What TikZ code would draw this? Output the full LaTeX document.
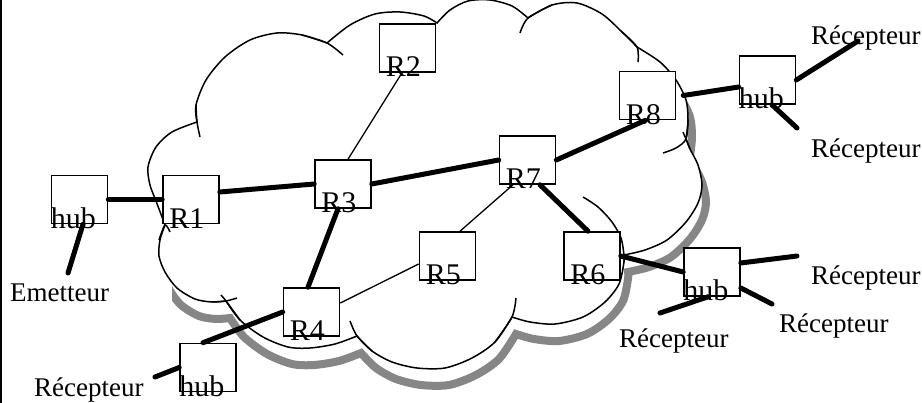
\documentclass[tikz,border=0pt]{standalone}
\usepackage{fontspec}
\setmainfont{Liberation Serif}
\begin{document}
\begin{tikzpicture}[x=1pt,y=-1pt,
  box/.style={draw, line width=1.6pt, fill=white, minimum width=56pt, minimum height=48pt, inner sep=0pt},
  lbl/.style={font=\fontsize{27}{30}\selectfont, inner sep=0pt, anchor=base west},
  boxlbl/.style={font=\fontsize{30}{32}\selectfont, inner sep=0pt, anchor=base west},
  fatlink/.style={line width=5pt, line cap=round},
  thinlink/.style={line width=1.3pt},
  cloudline/.style={line width=1.5pt},
  cloudpath/.style={insert path={
    plot[smooth] coordinates {(197,122) (172,132) (156,147) (148,167) (150,185) (156,201) (165,225)}
    -- plot[smooth] coordinates {(165,225) (160,240) (159,256) (165,272) (177,288) (195,299) (212,302) (226,301)}
    -- plot[smooth] coordinates {(226,301) (240,320) (263,337) (288,347) (310,348) (335,344) (357,336)}
    -- plot[smooth] coordinates {(357,336) (372,351) (392,362) (417,368) (445,368) (472,358) (495,342) (512,317)}
    -- plot[smooth] coordinates {(512,317) (530,322) (555,324) (583,317) (605,302) (619,284) (624,262) (624,255)}
    -- plot[smooth] coordinates {(624,255) (645,250) (667,240) (686,222) (698,203) (702,185) (698,165) (690,149) (686,139)}
    -- plot[smooth] coordinates {(686,139) (688,120) (686,100) (676,80) (660,62) (637,47)}
    -- plot[smooth] coordinates {(637,47) (622,32) (602,14) (577,3) (552,5) (528,18)}
    -- plot[smooth] coordinates {(528,18) (512,6) (490,0) (468,1) (450,10) (437,23)}
    -- plot[smooth] coordinates {(437,23) (424,16) (400,12) (375,14) (350,25) (327,43)}
    -- plot[smooth] coordinates {(327,43) (302,35) (277,33) (250,40) (225,57) (206,80) (196,105) (197,122)}
    -- cycle}}
]
\useasboundingbox (0,0) rectangle (922,403);

% left border
\draw[line width=2pt] (1,0) -- (1,403);

% cloud shadow and cloud
\begin{scope}
  \clip (172,0) rectangle (922,403);
  \draw[gray!95, line width=8pt, shift={(4,17)}, cloudpath];
\end{scope}
\draw[cloudline, fill=white, cloudpath];

% inner arcs of the cloud
\draw[cloudline] plot[smooth] coordinates {(196,105) (197,122) (200,137)};
\draw[cloudline] plot[smooth] coordinates {(159,240) (165,225) (170,232)};
\draw[cloudline] plot[smooth] coordinates {(212,302) (226,301) (237,298)};
\draw[cloudline] plot[smooth] coordinates {(221,295) (226,301) (240,320)};
\draw[cloudline] plot[smooth] coordinates {(350,321) (357,336) (372,351)};
\draw[cloudline] plot[smooth] coordinates {(495,342) (512,317) (516,298)};
\draw[cloudline] plot[smooth] coordinates {(624,262) (624,255) (621,238) (612,222) (598,207) (583,197)};
\draw[cloudline] plot[smooth] coordinates {(690,149) (686,139) (683,132)};
\draw[cloudline] plot[smooth] coordinates {(688,120) (686,139) (676,148) (663,153)};
\draw[cloudline] plot[smooth] coordinates {(622,32) (637,47) (638,62)};
\draw[cloudline] plot[smooth] coordinates {(552,5) (528,18) (520,33)};
\draw[cloudline] plot[smooth] coordinates {(302,35) (327,43) (343,55)};

% boxes
\node[box] (hubL) at (79.5,199.5) {};
\node[box] (r1) at (191,199.5) {};
\node[box] (r2) at (407.5,48) {};
\node[box] (r3) at (343,184) {};
\node[box] (r7) at (527.5,160) {};
\node[box] (r5) at (447.5,256) {};
\node[box] (r6) at (592,256) {};
\node[box] (r4) at (311.5,312) {};
\node[box] (r8) at (647.5,95.5) {};
\node[box] (hubTR) at (767.5,80) {};
\node[box] (hubRL) at (712,272) {};
\node[box] (hubB) at (208,367.5) {};

% free ends
\coordinate (eEm) at (68,273);
\coordinate (eT1) at (858,41);
\coordinate (eT2) at (797,128);
\coordinate (eR1) at (797,256);
\coordinate (eR2) at (772,304);
\coordinate (eR3) at (660,313);
\coordinate (eB) at (155,377);

% thick links
\draw[fatlink] (hubL.east) -- (r1.west);
\draw[fatlink] ([xshift=3.5pt]hubL.south) -- (eEm);
\draw[fatlink] ([yshift=7.5pt]r1.east) -- (r3.west);
\draw[fatlink] (r3.east) -- (r7.west);
\draw[fatlink] (r7.east) -- ([xshift=-2pt]r8.south);
\draw[fatlink] ([xshift=7pt]r8.east) -- ([yshift=-7pt]hubTR.west);
\draw[fatlink] (hubTR.east) -- (eT1);
\draw[fatlink] ([xshift=4.5pt]hubTR.south) -- (eT2);
\draw[fatlink] ([xshift=12.5pt]r7.south) -- ([xshift=-4pt]r6.north);
\draw[fatlink] (r6.east) -- (hubRL.west);
\draw[fatlink] ([yshift=9pt]hubRL.east) -- (eR1);
\draw[fatlink] ([yshift=-16pt]hubRL.east) -- (eR2);
\draw[fatlink] ([xshift=-4pt]hubRL.south) -- (eR3);
\draw[fatlink] ([xshift=-5pt]r3.south) -- ([xshift=-3.5pt]r4.north);
\draw[fatlink] (r4.west) -- ([xshift=-5pt]hubB.north);
\draw[fatlink] (hubB.west) -- (eB);

% thin links
\draw[thinlink] ([xshift=-5.5pt]r2.south) -- ([xshift=5pt]r3.north);
\draw[thinlink] ([xshift=-14.5pt]r7.south) -- ([xshift=12.5pt]r5.north);
\draw[thinlink] ([yshift=9pt]r4.east) -- ([yshift=-8pt]r5.west);

% box labels
\node[boxlbl] at ([xshift=0pt,yshift=-4pt]hubL.south west) {hub};
\node[boxlbl] at ([xshift=7pt,yshift=-4pt]r1.south west) {R1};
\node[boxlbl] at ([xshift=7pt,yshift=-4pt]r2.south west) {R2};
\node[boxlbl] at ([xshift=7pt,yshift=-4pt]r3.south west) {R3};
\node[boxlbl] at ([xshift=7pt,yshift=-4pt]r7.south west) {R7};
\node[boxlbl] at ([xshift=7pt,yshift=-4pt]r5.south west) {R5};
\node[boxlbl] at ([xshift=7pt,yshift=-4pt]r6.south west) {R6};
\node[boxlbl] at ([xshift=7pt,yshift=-4pt]r4.south west) {R4};
\node[boxlbl] at ([xshift=7pt,yshift=-4pt]r8.south west) {R8};
\node[boxlbl] at ([xshift=0pt,yshift=-4pt]hubTR.south west) {hub};
\node[boxlbl] at ([xshift=0pt,yshift=-4pt]hubRL.south west) {hub};
\node[boxlbl] at ([xshift=0pt,yshift=-4pt]hubB.south west) {hub};

% end labels
\node[lbl] (tEm) at (10,302) {Emetteur};
\node[lbl] (tR1) at (811,45) {Récepteur};
\node[lbl] (tR2) at (811,158) {Récepteur};
\node[lbl] (tR3) at (811,285) {Récepteur};
\node[lbl] (tR4) at (779,333) {Récepteur};
\node[lbl] (tR5) at (619,348) {Récepteur};
\node[lbl] (tR6) at (34,397) {Récepteur};
\end{tikzpicture}
\end{document}
